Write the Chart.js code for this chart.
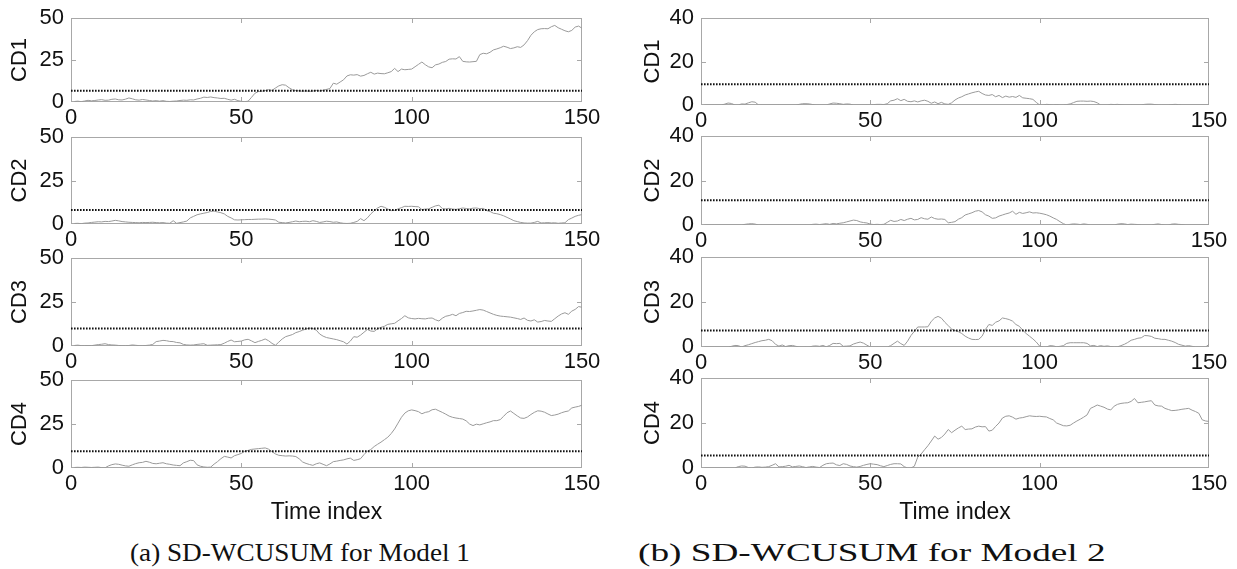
<!DOCTYPE html>
<html>
<head>
<meta charset="utf-8">
<title>SD-WCUSUM charts</title>
<script src="https://cdn.jsdelivr.net/npm/chart.js@4.4.1/dist/chart.umd.min.js"></script>
<style>
  html, body { margin: 0; padding: 0; background: #fff; }
  #wrap { position: relative; width: 1237px; height: 569px; overflow: hidden; background: #fff; }
  #wrap canvas { position: absolute; left: 0; top: 0; }
  .cap { position: absolute; top: 539px; font-family: 'Liberation Serif', 'Times New Roman', serif;
         font-size: 26px; line-height: 28px; color: #111; white-space: nowrap; transform-origin: 0 0; }
</style>
</head>
<body>
<div id="wrap">
  <div class="cap" id="capA">(a) SD-WCUSUM for Model 1</div>
  <div class="cap" id="capB">(b) SD-WCUSUM for Model 2</div>
</div>
<script>
// ---- data ---------------------------------------------------------------
const panelNames = ['CD1', 'CD2', 'CD3', 'CD4'];
const xTicks = [0, 50, 100, 150];
const yTicksModel1 = [0, 25, 50];
const yTicksModel2 = [0, 20, 40];
const limitsModel1 = [6.7, 8.0, 10.0, 9.5];
const limitsModel2 = [9.5, 11.1, 7.3, 5.6];

// Model 1 statistics, time index 1..150
const m1cd1 = [
  0.3,0.5,0.2,0.6,1.0,0.7,0.9,1.2,1.4,1.0,
  1.1,1.6,1.8,1.3,1.2,1.7,2.4,1.9,1.3,1.1,
  1.5,1.2,0.9,0.6,0.8,0.5,0.8,0.4,0.3,0.5,
  0.6,0.9,1.1,1.0,1.3,1.2,1.8,2.2,2.9,2.7,
  3.0,2.6,2.4,2.1,2.2,1.6,1.1,1.6,0.8,0.4,
  0.2,0.5,2.8,5.2,6.2,6.4,6.8,7.4,6.9,8.3,
  9.6,10.3,10.0,8.5,7.3,6.8,6.6,6.4,6.6,6.3,
  6.5,6.9,6.6,7.0,7.5,8.0,11.2,10.6,11.9,13.2,
  15.5,16.2,16.0,16.3,15.4,15.8,16.8,17.7,16.6,17.2,
  16.9,16.8,17.4,18.1,20.0,18.1,19.6,19.2,19.4,19.6,
  21.0,22.4,23.8,22.2,20.9,20.4,22.1,22.6,23.6,24.1,
  25.5,25.7,25.6,27.0,24.2,23.9,23.8,24.0,24.2,28.2,
  29.0,28.7,29.6,31.0,31.6,32.3,33.2,32.6,31.8,32.2,
  32.9,32.5,34.0,36.5,39.7,41.8,43.1,43.6,43.7,43.6,
  44.8,45.6,44.2,43.3,42.4,41.8,42.6,44.6,45.2,43.9
];
const m1cd2 = [
  0.3,0.4,0.2,0.5,0.6,0.9,1.1,1.3,1.2,1.5,
  1.4,1.7,2.1,1.8,1.4,1.2,1.0,0.9,0.8,0.7,
  0.9,0.8,0.9,1.0,0.8,0.7,0.8,0.5,0.4,1.9,
  0.4,0.8,1.2,1.7,3.5,4.4,5.3,5.8,6.2,6.6,
  7.2,7.4,6.9,6.5,5.8,4.4,3.5,2.4,2.3,2.4,
  2.5,2.6,2.6,2.7,2.8,2.8,2.9,2.8,2.6,2.3,
  1.0,0.8,0.6,0.9,1.3,1.7,1.3,1.5,1.6,1.3,
  1.9,1.5,0.9,1.2,1.6,1.4,1.0,1.2,0.7,0.4,
  0.3,0.4,0.9,1.5,3.1,1.9,3.5,5.8,7.6,9.2,
  10.2,9.6,8.6,7.7,7.8,8.7,9.4,10.2,10.1,10.2,
  10.0,9.9,8.3,8.6,8.7,9.6,10.4,10.8,8.9,8.7,
  9.0,8.6,8.4,8.8,9.2,8.9,8.7,9.1,9.2,8.8,
  9.0,7.7,7.2,6.2,5.9,5.4,4.7,3.8,2.9,1.9,
  1.4,0.9,0.6,0.5,0.5,0.9,1.5,0.6,0.7,0.8,
  0.6,0.7,0.4,0.6,0.7,2.5,3.4,4.4,5.0,5.4
];
const m1cd3 = [
  0.3,0.5,0.2,0.2,0.3,0.2,0.5,0.8,1.0,1.3,
  0.8,0.6,0.5,0.3,0.2,0.2,0.3,0.6,0.4,0.2,
  0.2,0.3,0.5,0.9,2.5,2.8,3.2,3.0,2.6,2.5,
  2.0,1.8,0.9,0.6,0.5,0.6,0.9,1.1,1.3,0.4,
  0.5,0.6,0.7,0.8,1.6,2.6,3.4,2.4,2.6,2.8,
  3.5,3.8,2.9,1.9,2.6,3.2,4.0,3.0,1.5,0.4,
  2.2,4.0,5.3,5.9,6.5,7.6,8.2,9.0,9.6,10.2,
  9.9,9.0,6.8,5.6,4.8,4.4,4.0,3.6,3.0,2.4,
  1.1,2.8,5.3,5.0,6.2,7.8,9.4,8.5,8.3,9.8,
  10.6,11.2,12.3,12.6,12.9,14.3,15.6,17.2,16.0,15.6,
  15.4,15.7,15.5,15.4,15.8,15.9,14.9,14.2,15.8,16.9,
  17.3,18.0,17.2,18.5,19.0,19.7,19.6,19.9,20.3,20.7,
  20.4,19.6,18.8,18.0,17.4,17.0,16.8,16.6,16.4,16.0,
  15.6,15.1,15.9,14.6,14.2,14.9,13.6,13.9,14.5,14.2,
  14.0,15.5,17.0,18.2,18.9,18.0,19.8,20.8,22.4,22.0
];
const m1cd4 = [
  0.3,0.4,0.3,0.5,0.4,0.3,0.4,0.5,0.2,0.1,
  1.2,1.9,2.3,2.1,1.6,1.2,1.0,1.8,2.5,3.0,
  3.2,3.8,3.3,2.6,2.4,2.7,3.0,2.4,2.1,1.7,
  1.5,1.3,2.9,3.6,4.4,4.2,1.8,1.0,0.6,0.4,
  0.5,2.2,3.6,5.3,6.6,6.2,5.7,7.0,7.6,8.3,
  9.5,10.0,10.6,10.8,11.0,11.2,11.4,10.7,9.3,8.0,
  7.2,7.0,6.8,6.9,6.8,6.5,5.2,3.4,2.6,2.0,
  1.5,2.4,2.9,2.1,1.3,2.3,3.6,3.9,4.3,4.6,
  5.2,5.6,4.3,4.7,5.3,7.6,9.6,10.5,12.2,13.5,
  14.7,16.1,17.5,19.6,22.2,25.5,28.8,31.2,32.5,33.0,
  32.6,32.0,30.8,31.6,32.0,33.1,33.4,32.5,31.6,30.6,
  29.5,28.8,28.4,28.1,27.8,26.8,25.0,24.1,24.9,24.5,
  25.1,25.7,26.2,26.9,26.9,27.5,29.4,31.4,32.4,31.0,
  29.6,28.4,28.2,29.0,30.4,31.6,32.5,32.3,31.7,30.7,
  29.8,30.1,30.6,31.4,32.0,32.4,34.1,34.6,35.0,35.7
];

// Model 2 statistics, time index 1..150
const m2cd1 = [
  0,0,0,0,0,0,0.4,0.9,0.7,0,
  0,0.5,0.4,1.0,1.5,1.3,0,0,0,0,
  0,0,0,0,0,0,0,0,0.3,0.6,
  0.6,0.5,0.2,0,0,0,0,0.5,0.9,0.8,
  0.6,0.3,0.5,0.4,0,0,0,0,0,0,
  0.2,0.3,0.3,0.2,0.6,1.9,2.2,2.9,2.0,2.6,
  1.7,1.5,1.9,1.4,1.9,2.2,1.7,0.8,1.4,0.6,
  1.2,0.5,0.3,1.0,2.3,3.2,3.8,4.6,5.1,5.6,
  6.0,6.3,5.3,4.6,4.4,4.8,3.8,4.4,3.4,4.1,
  3.6,3.9,3.5,4.4,3.3,3.1,2.9,2.6,1.2,0,
  0,0.3,0.2,0,0.2,0,0,0.2,0.5,1.1,
  1.7,1.8,1.8,1.7,1.8,1.6,1.0,0,0,0,
  0.3,0.2,0.3,0.1,0,0,0,0,0,0,
  0.3,0.4,0.4,0.2,0,0,0,0,0.2,0.3,
  0.2,0,0,0,0,0,0,0,0,0
];
const m2cd2 = [
  0,0,0,0,0,0,0,0,0,0,
  0,0,0.3,0.5,0.6,0.4,0,0,0,0,
  0,0,0,0,0,0,0,0,0,0,
  0,0,0.3,0.4,0.2,0.4,0.6,0.3,0.7,0.5,
  0.8,1.0,1.4,1.8,2.2,2.0,1.4,1.1,0.9,0.4,
  0.2,0.3,0.2,0.3,1.2,2.1,1.6,1.8,2.5,2.0,
  2.6,3.0,2.3,2.5,3.3,2.8,2.6,3.6,2.9,2.6,
  2.7,2.5,1.0,1.2,1.5,2.6,3.3,4.5,5.0,5.5,
  6.2,6.5,5.9,4.6,4.0,3.0,3.2,4.0,4.5,5.0,
  5.4,6.2,4.8,5.7,5.2,5.5,5.9,5.4,5.5,5.3,
  5.0,4.6,4.0,3.2,2.5,1.5,0.6,0,0.3,0.5,
  0.4,0.2,0.5,0.3,0,0,0,0,0,0,
  0,0,0.4,0.6,0.5,0.2,0.4,0.3,0.2,0,
  0,0,0,0.3,0.5,0.2,0,0,0.4,0.5,
  0.3,0.2,0,0,0,0,0,0,0,0
];
const m2cd3 = [
  0,0,0,0,0,0,0,0,0.3,0.7,
  0.6,0,0.6,1.0,1.5,2.0,2.4,2.8,3.0,3.4,
  2.8,1.2,0.4,0.9,0.2,0.6,0.7,0.3,0,0,
  0,0,0.4,0.5,0.3,0.7,0.1,0.7,1.6,1.5,
  1.6,0.3,0.4,0.5,1.3,1.8,2.2,1.7,0.8,0,
  0,0,0,0,0,0.6,1.6,2.6,1.5,0.7,
  2.6,5.1,7.0,8.9,8.9,8.9,9.0,11.4,12.9,13.6,
  12.8,11.0,9.5,8.0,7.3,6.8,6.0,4.8,4.0,3.4,
  3.3,3.4,4.8,7.8,10.0,9.6,11.0,11.6,12.9,12.6,
  12.2,11.5,10.0,9.2,7.5,6.0,4.8,3.6,2.2,0.4,
  0,0,0.6,0.5,0.1,0.3,0.6,1.6,1.9,1.9,
  1.9,1.9,1.9,1.6,0.5,0.7,0.2,0.6,0.3,0.5,
  0.2,0,0.1,0.6,1.2,2.0,3.0,3.4,3.9,4.1,
  5.1,5.0,4.7,3.9,3.7,3.4,3.4,3.0,2.6,2.0,
  1.2,0.8,0.4,0.6,0.3,0,0,0,0,1.2
];
const m2cd4 = [
  0,0,0,0,0,0,0,0,0,0,
  0.6,0.9,0.8,0.2,0,0.4,0.5,0.3,0.4,0.6,
  1.2,1.9,0.5,0.6,0.8,1.2,0.5,0.7,0.9,0.6,
  0.2,0.5,0.7,0.4,0.2,1.2,1.9,2.1,2.2,1.4,
  1.1,1.9,1.6,0.9,0.6,0.4,0.7,1.2,1.6,1.9,
  1.7,1.5,1.0,0.6,1.1,1.6,1.9,1.9,1.8,0.6,
  0,0,0.8,4.8,6.2,8.1,9.9,12.0,14.2,12.8,
  13.6,15.1,17.1,15.7,16.8,17.8,18.6,17.1,17.3,17.4,
  18.2,18.6,18.3,18.4,16.4,16.8,18.5,20.0,22.2,23.0,
  23.2,22.6,21.7,22.2,22.4,22.8,23.2,23.0,22.9,23.0,
  22.8,22.7,22.0,21.4,20.0,19.4,18.8,18.7,19.0,20.0,
  20.9,21.7,22.6,23.6,26.5,27.2,28.0,27.5,27.0,26.2,
  25.8,27.5,28.3,28.7,28.9,29.0,29.6,30.9,29.0,29.2,
  29.4,29.7,29.9,28.0,27.6,27.5,26.5,26.0,25.5,25.6,
  25.8,26.1,26.3,26.5,25.7,25.1,24.3,21.4,20.9,20.7
];

// ---- layout ---------------------------------------------------------------
const W = 1237, H = 569;
const SANS = "'Liberation Sans', Arial, Helvetica, sans-serif";
const columns = [
  { series: [m1cd1, m1cd2, m1cd3, m1cd4], limits: limitsModel1, yTicks: yTicksModel1,
    left: 71, right: 582, titleLeft: 9,
    rows: [[14, 102], [137, 224], [258, 346], [380, 468]] },
  { series: [m2cd1, m2cd2, m2cd3, m2cd4], limits: limitsModel2, yTicks: yTicksModel2,
    left: 701, right: 1209, titleLeft: 642,
    rows: [[15, 105], [136, 225], [257, 347], [378, 468]] }
];

// box around the axes with small inward tick marks
const boxPlugin = {
  id: 'axesBox',
  beforeDatasetsDraw(chart) {
    const { ctx, chartArea: a, scales } = chart;
    ctx.save();
    ctx.strokeStyle = '#a8a8a8';
    ctx.lineWidth = 1;
    ctx.strokeRect(a.left + 0.5, a.top + 0.5, a.right - a.left - 1, a.bottom - a.top - 1);
    const len = 5;
    ctx.beginPath();
    scales.x.ticks.slice(1, -1).forEach(t => {
      const px = Math.round(scales.x.getPixelForValue(t.value)) + 0.5;
      ctx.moveTo(px, a.bottom); ctx.lineTo(px, a.bottom - len);
      ctx.moveTo(px, a.top); ctx.lineTo(px, a.top + len);
    });
    scales.y.ticks.slice(1, -1).forEach(t => {
      const py = Math.round(scales.y.getPixelForValue(t.value)) + 0.5;
      ctx.moveTo(a.left, py); ctx.lineTo(a.left + len, py);
      ctx.moveTo(a.right, py); ctx.lineTo(a.right - len, py);
    });
    ctx.stroke();
    ctx.restore();
  }
};

const wrap = document.getElementById('wrap');

columns.forEach(col => {
  col.rows.forEach(([top, bottom], r) => {
    const isLast = r === col.rows.length - 1;
    const xH = isLast ? 56 : 28;
    const values = col.series[r];
    const timeIndex = values.map((_, i) => i + 1);
    const canvas = document.createElement('canvas');
    canvas.width = W; canvas.height = H;
    wrap.appendChild(canvas);

    new Chart(canvas, {
      type: 'line',
      data: {
        datasets: [
          { // control limit
            data: [{ x: xTicks[0], y: col.limits[r] }, { x: xTicks[xTicks.length - 1], y: col.limits[r] }],
            borderColor: '#111', borderWidth: 2, borderDash: [1.6, 1.4],
            pointRadius: 0, fill: false
          },
          { // monitoring statistic
            data: values.map((v, i) => ({ x: timeIndex[i], y: v })),
            borderColor: '#9a9a9a', borderWidth: 1, pointRadius: 0, tension: 0, fill: false
          }
        ]
      },
      options: {
        responsive: false, animation: false, devicePixelRatio: 1, events: [],
        layout: { padding: { left: col.titleLeft, right: W - col.right, top: top, bottom: H - bottom - xH } },
        plugins: { legend: { display: false }, tooltip: { enabled: false } },
        scales: {
          x: {
            type: 'linear', min: xTicks[0], max: xTicks[xTicks.length - 1],
            grid: { display: false, drawTicks: false }, border: { display: false },
            afterBuildTicks: s => { s.ticks = xTicks.map(v => ({ value: v })); },
            afterFit: s => { s.height = xH; },
            ticks: { font: { family: SANS, size: 22, lineHeight: 1 }, color: '#111',
                     padding: 5, maxRotation: 0, autoSkip: false },
            title: { display: isLast, text: 'Time index', color: '#111', padding: 0,
                     font: { family: SANS, size: 23, lineHeight: 1 } }
          },
          y: {
            type: 'linear', min: col.yTicks[0], max: col.yTicks[col.yTicks.length - 1],
            grid: { display: false, drawTicks: false }, border: { display: false },
            afterBuildTicks: s => { s.ticks = col.yTicks.map(v => ({ value: v })); },
            afterFit: s => { s.width = col.left - col.titleLeft; },
            ticks: { font: { family: SANS, size: 22, lineHeight: 1 }, color: '#111', padding: 7 },
            title: { display: true, text: panelNames[r], color: '#111', padding: 0,
                     font: { family: SANS, size: 22, lineHeight: 1 } }
          }
        }
      },
      plugins: [boxPlugin]
    });
  });
});

// captions, stretched to their spans under each column
function placeCaption(id, left, width) {
  const el = document.getElementById(id);
  el.style.left = left + 'px';
  el.style.transform = 'scaleX(' + (width / el.offsetWidth) + ')';
}
placeCaption('capA', 130, 340);
placeCaption('capB', 638, 467);
</script>
</body>
</html>
